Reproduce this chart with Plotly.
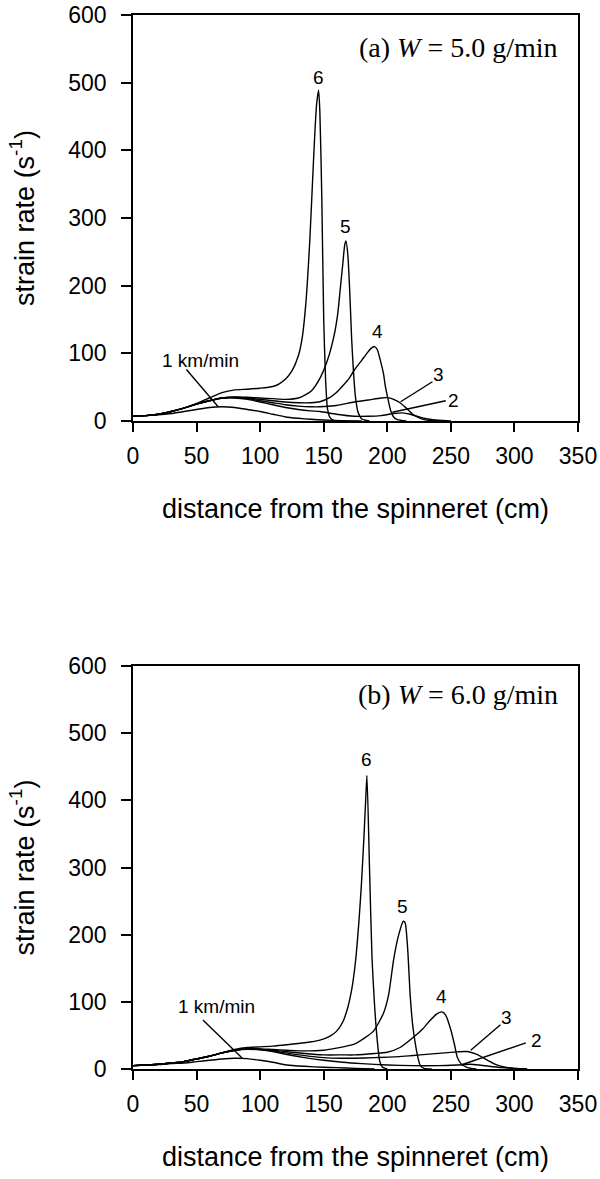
import plotly.graph_objects as go

# ---------------- data ----------------
SPEEDS = ["1", "2", "3", "4", "5", "6"]  # take-up speed, km/min

# Panel (a): W = 5.0 g/min
XA = {
    "1": [0, 10, 20, 30, 40, 50, 60, 70, 80, 90, 100, 110, 120, 130, 140, 150, 165, 180],
    "2": [0, 10, 20, 30, 40, 50, 60, 70, 80, 90, 100, 110, 120, 130, 140, 147, 160, 174, 185, 195, 205, 212, 218, 225, 232, 240, 250],
    "3": [0, 10, 20, 30, 40, 50, 60, 70, 80, 90, 100, 110, 120, 130, 140, 147, 160, 174, 185, 195, 200, 205, 210, 215, 220, 226, 232, 245],
    "4": [0, 10, 20, 30, 40, 50, 60, 70, 80, 90, 100, 110, 120, 130, 140, 147, 155, 160, 165, 170, 174, 180, 184, 187, 190, 192, 194.5, 197, 198.6, 200.5, 202.6, 205, 208, 215],
    "5": [0, 10, 20, 30, 40, 50, 60, 70, 80, 90, 100, 110, 120, 130, 140, 147, 153, 158, 161, 163, 165, 166.5, 167.5, 169, 170.5, 172, 173.5, 175, 177, 180, 186],
    "6": [0, 10, 20, 30, 40, 50, 60, 70, 80, 90, 100, 110, 115, 120, 125, 130, 133, 136, 139, 141, 143, 144.5, 146, 147, 148.5, 150, 151.5, 153, 155, 158, 165],
}
YA = {
    "1": [7, 8, 9, 11, 14, 17, 20, 21, 20, 17, 14, 10, 6, 4, 2.5, 1.5, 0.5, 0],
    "2": [7, 8, 10, 14, 19, 25, 30, 33.5, 34, 32, 28, 24, 20, 17, 15, 14, 10, 7, 7, 8, 11, 12, 10, 6, 3, 1, 0],
    "3": [7, 8, 10, 14, 19, 25, 30, 34, 34.5, 33, 30, 27, 24, 22, 21, 21, 23, 28, 31, 34, 34.5, 32, 27, 19, 10, 4, 1, 0],
    "4": [7, 8, 10, 14, 19, 25, 30, 34, 35, 34, 32, 30, 28, 27, 27, 28.5, 35, 42, 52, 63, 75, 90, 100, 107, 110, 106, 90, 70, 50, 33, 16, 6, 2, 0],
    "5": [7, 8, 10, 14, 19, 25, 30, 34, 35.5, 35, 34, 33, 32, 34, 44, 63, 90, 125, 158, 195, 232, 260, 266, 245, 190, 120, 70, 35, 13, 3, 0],
    "6": [7, 8, 10, 14, 19, 26, 34, 42, 46, 47, 48.5, 51, 55, 62, 74, 96, 122, 175, 265, 345, 425, 470, 489, 455, 330, 150, 60, 18, 5, 1, 0],
}

# Panel (b): W = 6.0 g/min
XB = {
    "1": [0, 10, 20, 30, 40, 50, 60, 70, 80, 90, 100, 110, 121, 135, 150, 160, 175, 190],
    "2": [0, 10, 20, 30, 40, 50, 60, 70, 80, 90, 100, 110, 120, 135, 150, 165, 180, 200, 220, 240, 255, 265, 272, 280, 290, 300, 310],
    "3": [0, 10, 20, 30, 40, 50, 60, 70, 80, 90, 100, 110, 120, 135, 150, 165, 174, 190, 205, 226, 245, 255, 263, 270, 279, 285, 292, 300, 310],
    "4": [0, 10, 20, 30, 40, 50, 60, 70, 80, 90, 100, 110, 120, 135, 150, 165, 174, 190, 200, 210, 221, 228, 234, 239, 243, 246, 250, 253, 255, 258, 263, 270],
    "5": [0, 10, 20, 30, 40, 50, 60, 70, 80, 90, 100, 110, 121, 135, 150, 160, 174, 182, 189, 197, 201, 205, 209, 212.6, 214, 216, 218, 220, 222, 224, 226, 229, 235],
    "6": [0, 10, 20, 30, 40, 50, 60, 70, 80, 90, 100, 110, 121, 135, 147, 155, 160, 165, 169, 172, 175, 177.5, 179.5, 181.5, 183, 184, 186, 188, 190, 192, 194, 196, 200],
}
YB = {
    "1": [5, 6, 6.5, 8, 9, 11, 13, 15, 16, 15.5, 13, 10, 6, 4, 2.5, 2, 1, 0],
    "2": [5, 6, 7, 9, 11, 15, 19, 24, 28, 29.5, 28.5, 26, 22, 17, 13, 10, 8, 6, 5, 5, 6, 7, 6, 4, 2, 1, 0],
    "3": [5, 6, 7, 9, 11, 15, 19, 24, 28, 30, 29, 27, 24, 20, 17, 16, 16, 17, 18, 21, 24, 25.5, 26, 22, 13, 7, 3, 1, 0],
    "4": [5, 6, 7, 9, 11, 15, 19, 24, 28, 30, 29.5, 28, 26, 23, 21, 21, 21, 23, 25, 32, 48, 60, 73, 82, 85, 80, 58, 35, 18, 8, 2, 0],
    "5": [5, 6, 7, 9, 11, 15, 19, 24, 28, 30, 30, 29, 28, 27, 28, 31, 37, 46, 56, 83, 110, 163, 200, 220, 218, 180, 110, 65, 38, 18, 5, 1, 0],
    "6": [5, 6, 7, 9, 11, 15, 19, 24, 29, 32, 33, 34, 36, 39, 43, 49, 56, 70, 92, 118, 160, 215, 270, 340, 400, 437, 300, 165, 95, 45, 12, 3, 0],
}

X_TICKS = [0, 50, 100, 150, 200, 250, 300, 350]
Y_TICKS = [0, 100, 200, 300, 400, 500, 600]
PANEL_TITLES = ["(a) <i>W</i> = 5.0 g/min", "(b) <i>W</i> = 6.0 g/min"]
X_TITLE = "distance from the spinneret (cm)"
Y_TITLE = "strain rate (s<sup>-1</sup>)"

# curve labels: (text, x, y) in data units
LABELS_A = [("6", 146, 508), ("5", 167, 287), ("4", 192, 132), ("3", 240, 68), ("2", 252, 31), ("1 km/min", 53, 90)]
LABELS_B = [("6", 184, 461), ("5", 212, 242), ("4", 243, 108), ("3", 294, 76), ("2", 317, 43), ("1 km/min", 66, 93)]
# leader lines: (x0, y0, x1, y1)
LEADERS_A = [(42, 76, 67, 21), (235.5, 58, 210.5, 28.5), (246, 30, 204, 13)]
LEADERS_B = [(55, 73, 86, 16), (289, 66, 265.6, 28), (309, 39, 258, 6)]

# ---------------- figure ----------------
SANS = "Liberation Sans, Arial, sans-serif"
SERIF = "Liberation Serif, Times New Roman, serif"
fig = go.Figure()

LINE = dict(color="black", width=1.4, shape="spline", smoothing=0.6)
for sp in SPEEDS:
    fig.add_trace(go.Scatter(x=XA[sp], y=YA[sp], mode="lines", xaxis="x", yaxis="y",
                             line=LINE, showlegend=False, name=sp + " km/min"))
for sp in SPEEDS:
    fig.add_trace(go.Scatter(x=XB[sp], y=YB[sp], mode="lines", xaxis="x2", yaxis="y2",
                             line=LINE, showlegend=False, name=sp + " km/min"))

W, H = 600, 1179
xdom = [133 / W, 578 / W]
ydomA = [1 - 421 / H, 1 - 15 / H]
ydomB = [1 - 1069 / H, 1 - 666 / H]


def xaxis(anchor):
    return dict(domain=xdom, anchor=anchor, range=[0, 350], tickvals=X_TICKS,
                showline=True, linecolor="black", linewidth=1.5, mirror=True,
                ticks="outside", ticklen=9, tickwidth=1.5, tickcolor="black",
                showgrid=False, zeroline=False, automargin=False,
                ticklabelstandoff=5, ticklabeloverflow="allow",
                tickfont=dict(family=SANS, size=23, color="black"),
                title=dict(text=X_TITLE, font=dict(family=SANS, size=27, color="black"),
                           standoff=31))


def yaxis(anchor, dom):
    return dict(domain=dom, anchor=anchor, range=[0, 600], tickvals=Y_TICKS,
                showline=True, linecolor="black", linewidth=1.5, mirror=True,
                ticks="outside", ticklen=10, tickwidth=1.5, tickcolor="black",
                showgrid=False, zeroline=False, automargin=False,
                ticklabelstandoff=10, ticklabeloverflow="allow",
                tickfont=dict(family=SANS, size=23, color="black"),
                title=dict(text=Y_TITLE, font=dict(family=SANS, size=27, color="black"),
                           standoff=26))


annotations = []
for (lbls, xr, yr) in [(LABELS_A, "x", "y"), (LABELS_B, "x2", "y2")]:
    for (t, x, y) in lbls:
        annotations.append(dict(text=t, x=x, y=y, xref=xr, yref=yr, showarrow=False,
                                font=dict(family=SANS, size=19, color="black"),
                                xanchor="center", yanchor="middle"))
for (t, xr, yr, yy) in [(PANEL_TITLES[0], "x domain", "y domain", 0.919),
                        (PANEL_TITLES[1], "x2 domain", "y2 domain", 0.93)]:
    annotations.append(dict(text=t, x=0.96, y=yy, xref=xr, yref=yr, showarrow=False,
                            font=dict(family=SERIF, size=28, color="black"),
                            xanchor="right", yanchor="middle"))

shapes = []
for (leaders, xr, yr) in [(LEADERS_A, "x", "y"), (LEADERS_B, "x2", "y2")]:
    for (x0, y0, x1, y1) in leaders:
        shapes.append(dict(type="line", x0=x0, y0=y0, x1=x1, y1=y1, xref=xr, yref=yr,
                           line=dict(color="black", width=1.4)))

fig.update_layout(
    width=W, height=H, margin=dict(l=0, r=0, t=0, b=0),
    paper_bgcolor="white", plot_bgcolor="white",
    xaxis=xaxis("y"), yaxis=yaxis("x", ydomA),
    xaxis2=xaxis("y2"), yaxis2=yaxis("x2", ydomB),
    annotations=annotations, shapes=shapes,
)

# remove the default 8px page margin so the 600x1179 figure fills the window
fig.write_html("out.html", config={"displayModeBar": False},
               post_script="document.body.style.margin='0';document.body.style.overflow='hidden';")
